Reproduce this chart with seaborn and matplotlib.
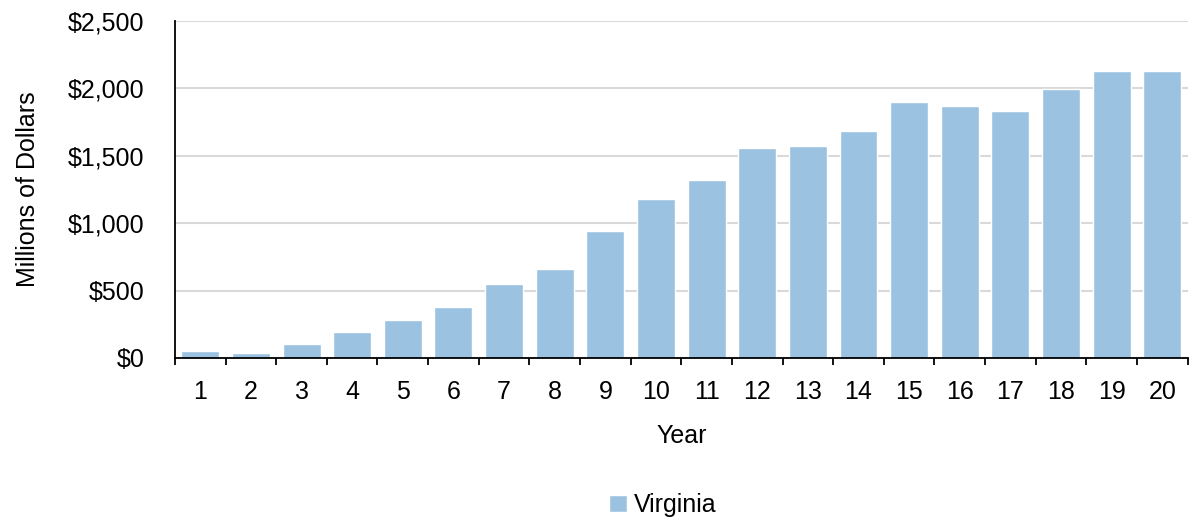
import numpy as np
import pandas as pd
import seaborn as sns
import matplotlib.pyplot as plt
from matplotlib.ticker import FuncFormatter, FixedLocator
from matplotlib.patches import Patch

# Data
years = [str(y) for y in range(1, 21)]
virginia = [55, 40, 100, 195, 280, 380, 545, 660, 940, 1180,
            1320, 1560, 1570, 1685, 1900, 1870, 1830, 1995, 2125, 2125]

df = pd.DataFrame({"Year": years, "Value": virginia, "State": "Virginia"})

sns.set_style("white")
plt.rcParams['font.family'] = ['Liberation Sans', 'DejaVu Sans']
plt.rcParams['text.color'] = 'black'
plt.rcParams['axes.labelcolor'] = 'black'
plt.rcParams['xtick.color'] = 'black'
plt.rcParams['ytick.color'] = 'black'

bar_color = '#9bc2e0'
fs = 18

fig = plt.figure(figsize=(11.9, 5.21), dpi=100)
ax = fig.add_axes([0.147, 0.313, 0.851, 0.647])

sns.barplot(data=df, x="Year", y="Value", color=bar_color, width=0.75,
            saturation=1, ax=ax, zorder=2)

ax.set_ylim(0, 2500)
ax.set_xlim(-0.5, 19.5)
ax.set_yticks(np.arange(0, 2501, 500))
ax.yaxis.set_major_formatter(FuncFormatter(lambda v, p: '${:,.0f}'.format(v)))
ax.grid(axis='y', color='#d9d9d9', linewidth=1.5, zorder=0)
ax.set_axisbelow(True)

for s in ['top', 'right']:
    ax.spines[s].set_visible(False)
for s in ['left', 'bottom']:
    ax.spines[s].set_color('black')
    ax.spines[s].set_linewidth(1.3)
    ax.spines[s].set_zorder(4)

# ticks between categories
ax.xaxis.set_minor_locator(FixedLocator(np.arange(-0.5, 20, 1)))
ax.tick_params(axis='x', which='major', length=0, pad=16, labelsize=fs)
ax.tick_params(axis='x', which='minor', bottom=True, length=5, width=1.3, direction='out', color='black')
ax.tick_params(axis='y', length=5, width=1.3, direction='out', color='black', pad=17, labelsize=fs)

ax.set_xlabel("Year", fontsize=fs, labelpad=14)
ax.set_ylabel("Millions of Dollars", fontsize=fs, labelpad=20)

fig.legend(handles=[Patch(facecolor=bar_color, label='Virginia')],
           loc='center', bbox_to_anchor=(0.557, 0.03), frameon=False,
           fontsize=fs, handlelength=0.7, handleheight=0.7, handletextpad=0.3)

fig.savefig("out.png", dpi=100)
